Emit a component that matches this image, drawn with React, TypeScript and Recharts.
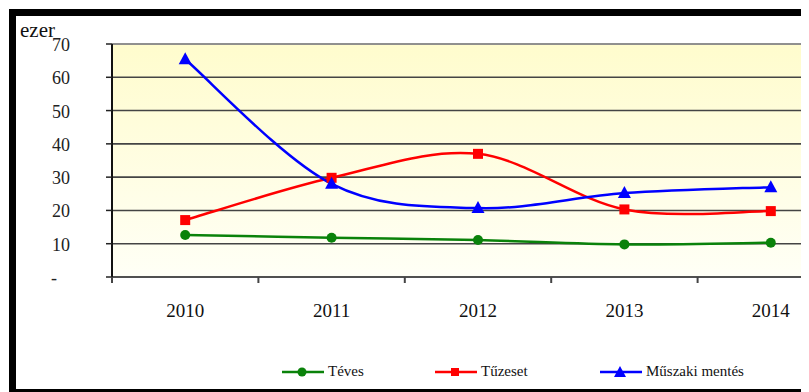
import React from "react";
import { LineChart, Line, XAxis, YAxis, CartesianGrid, ReferenceLine } from "recharts";

const years = ["2010", "2011", "2012", "2013", "2014"];
const teves = [12.6, 11.8, 11.1, 9.8, 10.3];
const tuzeset = [17.1, 29.8, 37.0, 20.3, 19.8];
const muszaki = [65.4, 28.0, 20.7, 25.2, 27.0];
const yTicks = [0, 10, 20, 30, 40, 50, 60, 70];

const GREEN = "#0a820a";
const RED = "#ff0000";
const BLUE = "#0000ff";
const SERIF = "'Liberation Serif', 'Times New Roman', serif";

// each year sits in the middle of its band on a 0..5 numeric axis
const rows = years.map((year, i) => ({
  x: i + 0.5,
  year,
  teves: teves[i],
  tuzeset: tuzeset[i],
  muszaki: muszaki[i],
}));
const xTicks = [0, 0.5, 1, 1.5, 2, 2.5, 3, 3.5, 4, 4.5, 5];

// smoothed line like the spreadsheet one (Catmull-Rom through every point)
function smoothCurve(context: any) {
  let pts: number[][] = [];
  return {
    areaStart() {},
    areaEnd() {},
    lineStart() {
      pts = [];
    },
    point(x: number, y: number) {
      pts.push([+x, +y]);
    },
    lineEnd() {
      if (!pts.length) return;
      context.moveTo(pts[0][0], pts[0][1]);
      for (let i = 0; i < pts.length - 1; i++) {
        const p0 = pts[i - 1] || pts[i];
        const p1 = pts[i];
        const p2 = pts[i + 1];
        const p3 = pts[i + 2] || p2;
        context.bezierCurveTo(
          p1[0] + (p2[0] - p0[0]) / 6,
          p1[1] + (p2[1] - p0[1]) / 6,
          p2[0] - (p3[0] - p1[0]) / 6,
          p2[1] - (p3[1] - p1[1]) / 6,
          p2[0],
          p2[1]
        );
      }
    },
  };
}

const circleDot = (p: any) => (
  <circle key={`c${p.index}`} cx={p.cx} cy={p.cy} r={5} fill={GREEN} />
);
const squareDot = (p: any) => (
  <rect key={`s${p.index}`} x={p.cx - 5} y={p.cy - 5} width={10} height={10} fill={RED} />
);
const triangleDot = (p: any) => (
  <polygon
    key={`t${p.index}`}
    points={`${p.cx},${p.cy - 7} ${p.cx + 6.5},${p.cy + 5} ${p.cx - 6.5},${p.cy + 5}`}
    fill={BLUE}
  />
);

const XTick = (props: any) => {
  const { x, y, payload } = props;
  const v = payload.value;
  if (Number.isInteger(v)) {
    return <line x1={x} x2={x} y1={y} y2={y + 6} stroke="#444" strokeWidth={2} />;
  }
  return (
    <text x={x} y={y + 40} textAnchor="middle" fontFamily={SERIF} fontSize={19} fill="#111">
      {years[Math.floor(v)]}
    </text>
  );
};

const YTick = (props: any) => {
  const { x, y, payload } = props;
  const zero = payload.value === 0;
  return (
    <text x={zero ? x - 13 : x} y={y} dy={7} textAnchor="end" fontFamily={SERIF} fontSize={18} fill="#222">
      {zero ? "-" : payload.value}
    </text>
  );
};

const legendItems = [
  { name: "Téves", color: GREEN, left: 274, shape: "circle" },
  { name: "Tűzeset", color: RED, left: 427, shape: "square" },
  { name: "Műszaki mentés", color: BLUE, left: 592, shape: "triangle" },
];

function LegendIcon({ color, shape }: { color: string; shape: string }) {
  return (
    <svg width={42} height={14} style={{ display: "block" }}>
      <line x1={0} x2={42} y1={7} y2={7} stroke={color} strokeWidth={2.5} />
      {shape === "circle" && <circle cx={20} cy={7} r={4.5} fill={color} />}
      {shape === "square" && <rect x={16} y={3} width={8} height={8} fill={color} />}
      {shape === "triangle" && <polygon points="20,1 26,12 14,12" fill={color} />}
    </svg>
  );
}

export default function App() {
  return (
    <div style={{ position: "relative", width: 801, height: 384, overflow: "hidden", background: "#fff" }}>
      <div
        style={{
          position: "absolute",
          left: 1,
          top: 1,
          width: 900,
          height: 387,
          boxSizing: "border-box",
          border: "7px solid #000",
          background: "#fff",
        }}
      />
      <div style={{ position: "absolute", left: 0, top: 0 }}>
        <LineChart width={850} height={384} data={rows} margin={{ top: 36, right: 14, left: 0, bottom: 75 }}>
          <defs>
            <linearGradient id="plotBg" x1="0" y1="0" x2="0" y2="1">
              <stop offset="0%" stopColor="#fffccd" />
              <stop offset="100%" stopColor="#fffff6" />
            </linearGradient>
          </defs>
          <CartesianGrid vertical={false} fill="url(#plotBg)" fillOpacity={1} stroke="#444" strokeWidth={1.6} />
          <ReferenceLine y={70} stroke="#9a9a9a" strokeWidth={1.5} />
          <XAxis
            dataKey="x"
            type="number"
            domain={[0, 5]}
            ticks={xTicks}
            interval={0}
            height={40}
            tickSize={0}
            tickMargin={0}
            tickLine={false}
            tick={<XTick />}
            axisLine={{ stroke: "#444", strokeWidth: 1.5 }}
          />
          <YAxis
            domain={[0, 70]}
            ticks={yTicks}
            interval={0}
            width={104}
            tickSize={6}
            tickMargin={36}
            tickLine={{ stroke: "#222", strokeWidth: 1.5 }}
            axisLine={{ stroke: "#111", strokeWidth: 2 }}
            tick={<YTick />}
          />
          <Line dataKey="teves" type={smoothCurve as any} stroke={GREEN} strokeWidth={2.5} dot={circleDot} isAnimationActive={false} />
          <Line dataKey="tuzeset" type={smoothCurve as any} stroke={RED} strokeWidth={2.5} dot={squareDot} isAnimationActive={false} />
          <Line dataKey="muszaki" type={smoothCurve as any} stroke={BLUE} strokeWidth={2.5} dot={triangleDot} isAnimationActive={false} />
        </LineChart>
      </div>
      <div style={{ position: "absolute", left: 12, top: 10, fontFamily: SERIF, fontSize: 21, color: "#111" }}>ezer</div>
      {legendItems.map((item) => (
        <div
          key={item.name}
          style={{
            position: "absolute",
            left: item.left,
            top: 355,
            display: "flex",
            alignItems: "center",
            fontFamily: SERIF,
            fontSize: 15,
            color: "#111",
          }}
        >
          <LegendIcon color={item.color} shape={item.shape} />
          <span style={{ marginLeft: 4 }}>{item.name}</span>
        </div>
      ))}
    </div>
  );
}
